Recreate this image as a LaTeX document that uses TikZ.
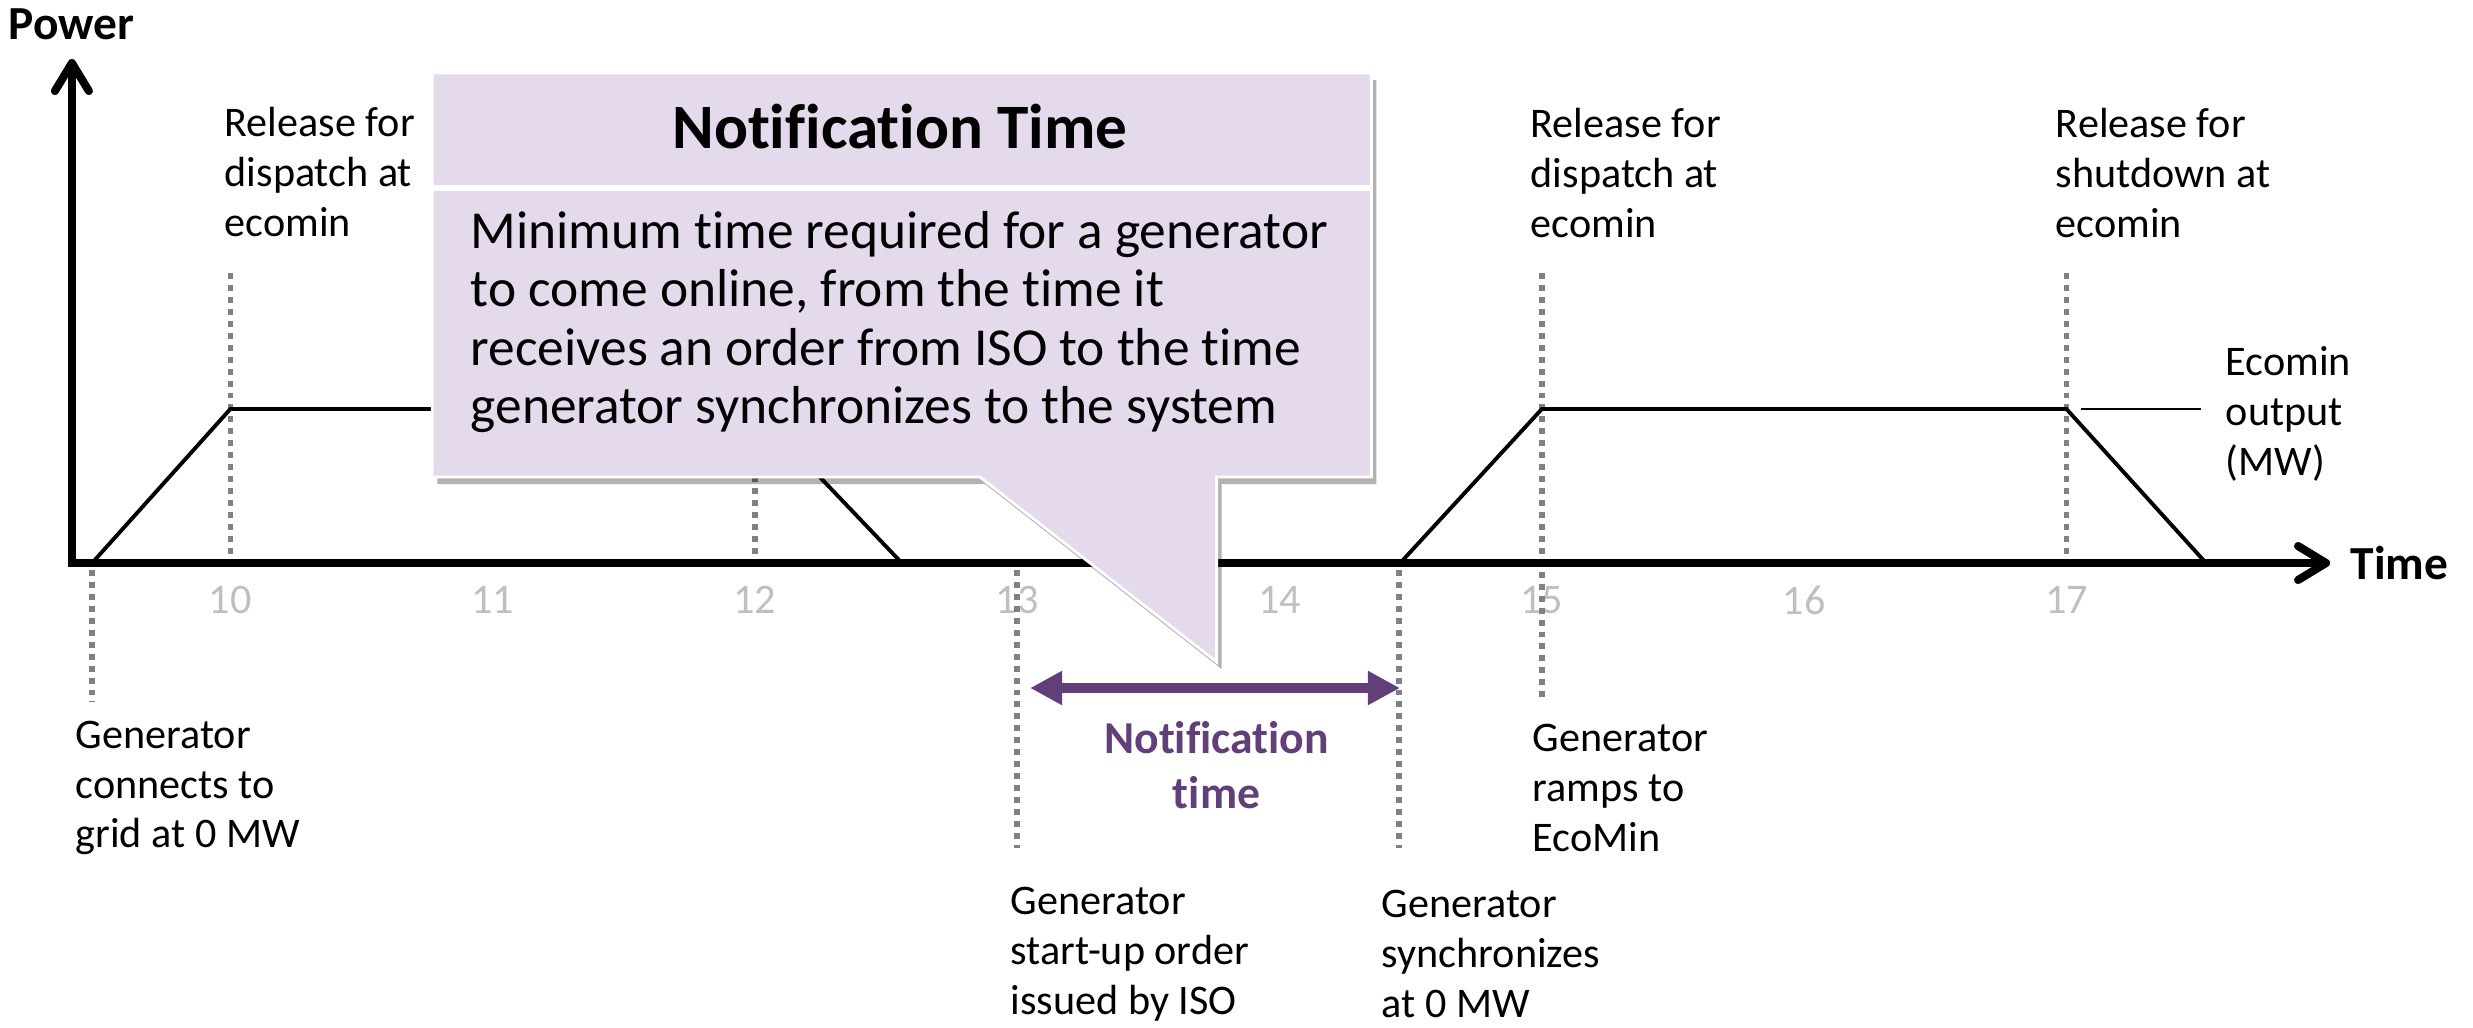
\documentclass[tikz,border=0pt]{standalone}
\usepackage{fontspec}
\setmainfont{Carlito}[Ligatures=NoCommon]
\usetikzlibrary{arrows.meta,shadows}
\definecolor{balaofundo}{RGB}{228,218,236}
\definecolor{roxo}{RGB}{99,63,122}
\definecolor{cinzaclaro}{RGB}{191,191,191}
\definecolor{cinzaguia}{RGB}{128,128,128}
\tikzset{
  eixo/.style={line width=2.3pt, -{Straight Barb[length=2.8mm,width=3.4mm,round]}},
  curva/.style={line width=1.1pt},
  guia/.style={cinzaguia, line width=1.6pt, dash pattern=on 1.7pt off 1.7pt},
  rotulo/.style={anchor=west, align=left, inner sep=0pt, font=\fontsize{12}{14.2}\selectfont},
  tickrot/.style={cinzaclaro, inner sep=0pt, font=\fontsize{12}{14.4}\selectfont},
  eixorot/.style={anchor=west, inner sep=0pt, font=\fontsize{13.5}{16}\selectfont\bfseries},
  balao/.style={fill=balaofundo, draw=white, line width=0.8pt,
    drop shadow={shadow xshift=0.5mm, shadow yshift=-0.7mm, opacity=0.3, fill=black}}
}
\begin{document}
\begin{tikzpicture}[x=2.623cm,y=1cm]  %Escala: eixo x em horas
    \useasboundingbox (9.122,-4.64) rectangle (18.55,5.63);
        %Numeros do eixo do tempo
    \foreach \t in {10,...,17}
        \node[tickrot] (tick\t) at (\t,-0.37) {\t};
        %Guias pontilhadas
    \draw[guia] (9.473,-0.07) -- (9.473,-1.39); %Conexao a rede
    \draw[guia] (10,2.90) -- (10,0.08);
    \draw[guia] (12,2.90) -- (12,0.08);
    \draw[guia] (13,-0.07) -- (13,-2.85); %Ordem do ISO
    \draw[guia] (14.455,-0.07) -- (14.455,-2.85); %Sincronismo
    \draw[guia] (15,2.90) -- (15,-1.39);
    \draw[guia] (17,2.90) -- (17,0.08);
        %Curvas de potencia
    \draw[curva] (9.473,0) -- (10,1.54) -- (12,1.54) -- (12.56,0);
    \draw[curva] (14.46,0) -- (15,1.54) -- (17,1.54) -- (17.532,0);
        %Eixos
    \coordinate (origem) at (9.396,0);
    \coordinate (topoY) at (9.396,5.04);
    \coordinate (fimX) at (18.005,0);
    \draw[eixo] ([yshift=-1.15pt]origem) -- (topoY); %Eixo potencia
    \draw[eixo] ([xshift=-1.15pt]origem) -- (fimX); %Eixo tempo
    \node[eixorot] (power) at (9.152,5.39) {Power};
    \node[eixorot] (time) at (18.081,0) {Time};
        %Seta do tempo de notificacao
    \coordinate (notifA) at (13.049,-1.25);
    \coordinate (notifB) at (14.459,-1.25);
    \draw[roxo, line width=3pt, {Triangle[length=3.2mm,width=3.2mm]}-{Triangle[length=3.2mm,width=3.2mm]}] (notifA) -- (notifB);
    \node[roxo, align=center, inner sep=0pt, font=\fontsize{13}{15.6}\selectfont\bfseries] (notifLbl) at (13.76,-2.02) {Notification\\time};
        %Balao explicativo
    \path[balao] (10.77,4.90) -- (14.35,4.90) -- (14.35,0.86) -- (13.76,0.86) -- (13.76,-0.99) -- (12.858,0.86) -- (10.77,0.86) -- cycle;
    \draw[white, line width=1.7pt] (10.77,3.75) -- (14.35,3.75);
    \node[inner sep=0pt, font=\fontsize{18}{21}\selectfont\bfseries] (balaoTit) at (12.553,4.36) {Notification Time};
    \node[anchor=west, align=left, inner sep=0pt, font=\fontsize{15.2}{16.6}\selectfont] (balaoTxt) at (10.914,2.41) {Minimum time required for a generator\\to come online, from the time it\\receives an order from ISO to the time\\generator synchronizes to the system};
        %Rotulos de cima
    \node[rotulo] (relA) at (9.976,3.91) {Release for\\dispatch at\\ecomin};
    \node[rotulo] (relB) at (14.955,3.90) {Release for\\dispatch at\\ecomin};
    \node[rotulo] (relC) at (16.957,3.90) {Release for\\shutdown at\\ecomin};
    \node[rotulo] (ecominLbl) at (17.605,1.49) {Ecomin\\output\\(MW)};
    \coordinate (patamar) at (17.056,1.54);
    \draw[line width=0.6pt, shorten >=2.4mm] (patamar) -- (patamar -| ecominLbl.west); %Indicador Ecomin
        %Rotulos de baixo
    \node[rotulo] (conecta) at (9.408,-2.25) {Generator\\connects to\\grid at 0 MW};
    \node[rotulo] (rampa) at (14.963,-2.25) {Generator\\ramps to\\EcoMin};
    \node[rotulo] (ordem) at (12.972,-3.91) {Generator\\start-up order\\issued by ISO};
    \node[rotulo] (sincro) at (14.387,-3.91) {Generator\\synchronizes\\at 0 MW};
\end{tikzpicture}
\end{document}
